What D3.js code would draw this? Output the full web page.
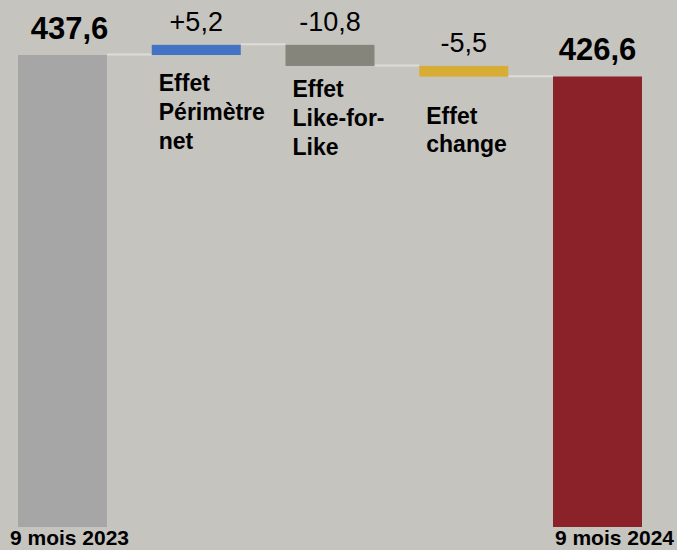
<!DOCTYPE html>
<html>
  <head>
    <meta charset="UTF-8">
    <style>
      body {
        margin: 0;
        background-color: #c6c4bf;
        font-family: "Liberation Sans", Arial, Helvetica, sans-serif;
      }
    </style>
    <script src="https://d3js.org/d3.v7.min.js"></script>
  </head>

  <body>
    <svg id="waterfall"></svg>

    <script type="text/javascript">
      // chart data
      let categories = ['9 mois 2023', 'Effet Périmètre net', 'Effet Like-for-Like', 'Effet change', '9 mois 2024']
      let labelLines = [['9 mois 2023'], ['Effet', 'Périmètre', 'net'], ['Effet', 'Like-for-', 'Like'], ['Effet', 'change'], ['9 mois 2024']]
      let kinds = ['total', 'delta', 'delta', 'delta', 'total']
      let values = [437.6, 5.2, -10.8, -5.5, 426.6]
      let colors = ['#a6a6a6', '#4472c4', '#85857b', '#d8ad36', '#8b2129']

      // layout tweaks, not data
      let axisMin = 196
      let totalLabelShift = [7, 0, 0, 0, 0]
      let bottomLabelShift = [7, 0, 0, 0, 17]
      let innerLabelDy = [0, 36, 31, 47, 0]

      function getChartConfig() {
        let width = 677
        let height = 550
        let svg = d3.select('#waterfall')
          .attr('width', width)
          .attr('height', height)

        svg.append('rect')
          .attr('width', width)
          .attr('height', height)
          .attr('fill', '#c6c4bf')

        return { width, height, svg }
      }

      function buildSteps() {
        let running = 0
        return categories.map((c, i) => {
          let start, end
          if (kinds[i] === 'total') {
            start = axisMin
            end = values[i]
            running = values[i]
          } else {
            start = running
            end = running + values[i]
            running = end
          }
          return { category: c, lines: labelLines[i], kind: kinds[i], value: values[i], start, end, color: colors[i], index: i }
        })
      }

      function getScales(steps) {
        let x = d3.scaleBand()
          .domain(categories)
          .range([0, 660])
          .paddingInner(0.3346)
          .paddingOuter(0.1346)

        let y = d3.scaleLinear()
          .domain([axisMin, values[0]])
          .range([527, 55])

        return { x, y }
      }

      let locale = d3.formatLocale({ decimal: ',', thousands: ' ', grouping: [3], currency: ['', ''], minus: '-' })
      let fmtTotal = locale.format('.1f')
      let fmtDelta = locale.format('+.1f')

      function drawBars(steps, scales, config) {
        let g = config.svg.append('g')

        // connectors between consecutive bars
        steps.slice(0, -1).forEach((d, i) => {
          let x1 = scales.x(d.category) + scales.x.bandwidth()
          let x2 = scales.x(steps[i + 1].category)
          g.append('line')
            .attr('x1', x1)
            .attr('x2', x2)
            .attr('y1', scales.y(d.end) - 0.5)
            .attr('y2', scales.y(d.end) - 0.5)
            .attr('stroke', '#dedcd8')
            .attr('stroke-width', 2)
        })

        g.selectAll('.bar')
          .data(steps)
          .enter()
          .append('rect')
          .attr('class', 'bar')
          .attr('x', d => scales.x(d.category))
          .attr('width', scales.x.bandwidth())
          .attr('y', d => scales.y(Math.max(d.start, d.end)))
          .attr('height', d => Math.abs(scales.y(d.start) - scales.y(d.end)))
          .attr('fill', d => d.color)
      }

      function drawLabels(steps, scales, config) {
        let g = config.svg.append('g')

        // value labels above the bars
        g.selectAll('.value')
          .data(steps)
          .enter()
          .append('text')
          .attr('class', 'value')
          .attr('x', d => scales.x(d.category) + scales.x.bandwidth() / 2 + totalLabelShift[d.index])
          .attr('y', d => scales.y(Math.max(d.start, d.end)) - (d.kind === 'total' ? 16 : 14))
          .attr('text-anchor', 'middle')
          .attr('font-size', d => d.kind === 'total' ? 31 : 27)
          .attr('font-weight', d => d.kind === 'total' ? 'bold' : 'normal')
          .attr('fill', '#000')
          .text(d => d.kind === 'total' ? fmtTotal(d.value) : fmtDelta(d.value))

        // category labels under the floating bars
        steps.filter(d => d.kind === 'delta').forEach(d => {
          let text = g.append('text')
            .attr('x', scales.x(d.category) + 7)
            .attr('y', scales.y(Math.min(d.start, d.end)) + innerLabelDy[d.index])
            .attr('font-size', 23)
            .attr('font-weight', 'bold')
            .attr('fill', '#000')
          d.lines.forEach((line, j) => {
            text.append('tspan')
              .attr('x', scales.x(d.category) + 7)
              .attr('dy', j === 0 ? 0 : 28.8)
              .text(line)
          })
        })

        // category labels under the totals
        g.selectAll('.bottom')
          .data(steps.filter(d => d.kind === 'total'))
          .enter()
          .append('text')
          .attr('class', 'bottom')
          .attr('x', d => scales.x(d.category) + scales.x.bandwidth() / 2 + bottomLabelShift[d.index])
          .attr('y', scales.y(axisMin) + 18)
          .attr('text-anchor', 'middle')
          .attr('font-size', 21)
          .attr('font-weight', 'bold')
          .attr('fill', '#000')
          .text(d => d.category)
      }

      let config = getChartConfig()
      let steps = buildSteps()
      let scales = getScales(steps)
      drawBars(steps, scales, config)
      drawLabels(steps, scales, config)
    </script>
  </body>
</html>
